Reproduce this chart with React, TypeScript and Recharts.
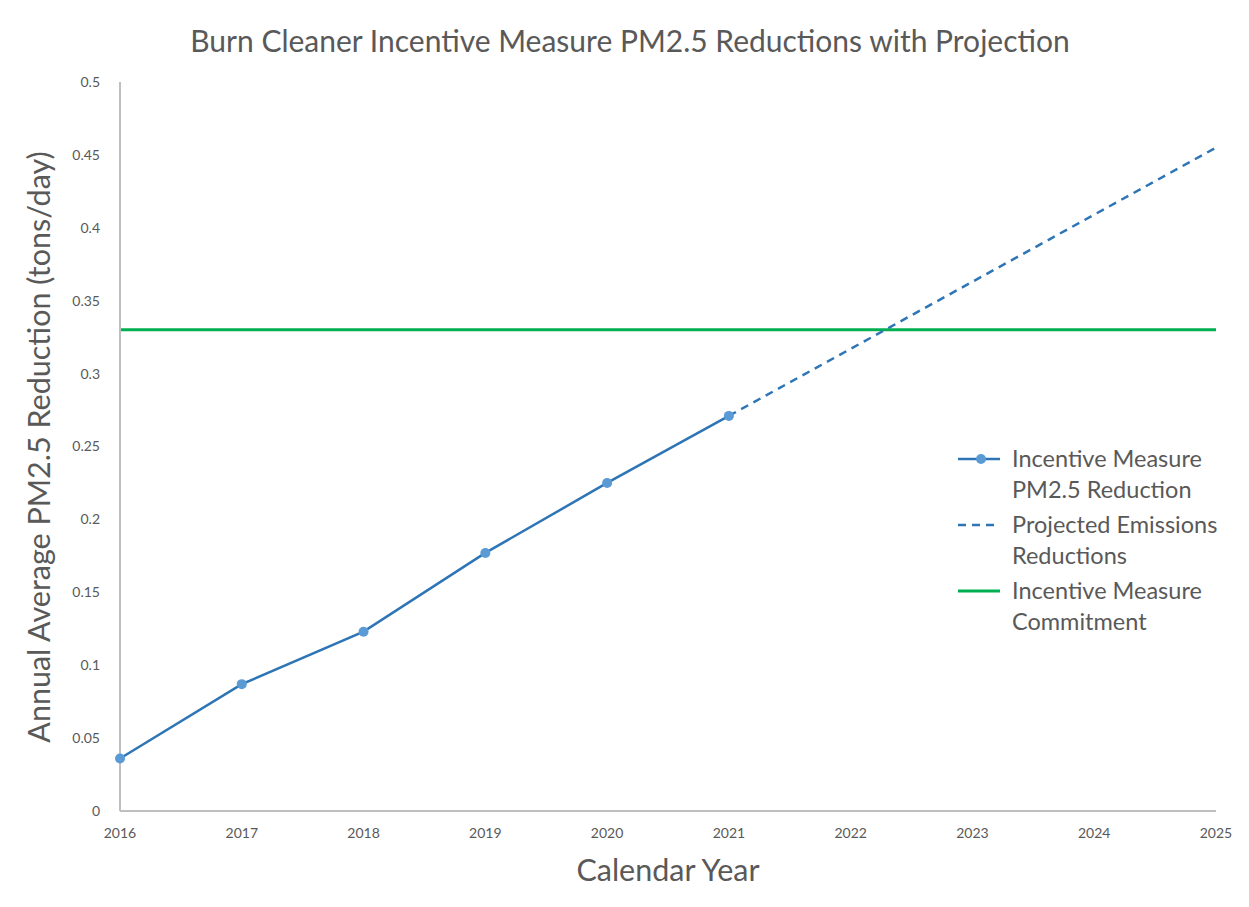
import { LineChart, Line, XAxis, YAxis } from 'recharts';

const years = [2016, 2017, 2018, 2019, 2020, 2021, 2022, 2023, 2024, 2025];
const measured = [0.036, 0.087, 0.123, 0.177, 0.225, 0.271, null, null, null, null];
const projected = [null, null, null, null, null, 0.271, 0.317, 0.363, 0.409, 0.455];
const commitment = [0.33, 0.33, 0.33, 0.33, 0.33, 0.33, 0.33, 0.33, 0.33, 0.33];
const yTicks = [0, 0.05, 0.1, 0.15, 0.2, 0.25, 0.3, 0.35, 0.4, 0.45, 0.5];

const data = years.map((year, i) => ({
  year,
  measured: measured[i],
  projected: projected[i],
  commitment: commitment[i],
}));

const FONT = 'Lato, "Open Sans", sans-serif';
const TEXT = '#595959';
const BLUE = '#2E75B6';
const DOT = '#5B9BD5';
const GREEN = '#00B050';
const AXIS = '#BFBFBF';

const legendItems = [
  { key: 'measured', lines: ['Incentive Measure', 'PM2.5 Reduction'], color: BLUE, dash: undefined, dot: true, width: 2.5 },
  { key: 'projected', lines: ['Projected Emissions', 'Reductions'], color: BLUE, dash: '8 6', dot: false, width: 2.5 },
  { key: 'commitment', lines: ['Incentive Measure', 'Commitment'], color: GREEN, dash: undefined, dot: false, width: 3 },
];

// legend drawn by hand, placed inside the plot like the Excel one
const ChartLegend = () => (
  <div
    style={{
      position: 'absolute',
      left: 958,
      top: 443,
      fontFamily: FONT,
      color: TEXT,
      fontSize: 23.5,
      lineHeight: '31px',
    }}
  >
    {legendItems.map((item) => (
      <div key={item.key} style={{ display: 'flex', marginBottom: 4 }}>
        <svg width={54} height={31} style={{ flexShrink: 0 }}>
          <line x1={0} y1={16} x2={42} y2={16} stroke={item.color} strokeWidth={item.width} strokeDasharray={item.dash} />
          {item.dot && <circle cx={23} cy={16} r={5} fill={DOT} />}
        </svg>
        <div>
          {item.lines.map((l) => (
            <div key={l} style={{ whiteSpace: 'nowrap' }}>{l}</div>
          ))}
        </div>
      </div>
    ))}
  </div>
);

export default function App() {
  return (
    <div style={{ position: 'relative', width: 1249, height: 907, margin: -8, background: '#fff', overflow: 'hidden' }}>
      <LineChart width={1249} height={907} data={data} margin={{ top: 82, right: 33, bottom: 66, left: 0 }}>
        <text x={630} y={52} textAnchor="middle" fontFamily={FONT} fontSize={30} fill={TEXT}>
          Burn Cleaner Incentive Measure PM2.5 Reductions with Projection
        </text>
        <text x={668} y={881} textAnchor="middle" fontFamily={FONT} fontSize={30.5} fill={TEXT}>
          Calendar Year
        </text>
        <text
          x={50}
          y={447}
          textAnchor="middle"
          fontFamily={FONT}
          fontSize={30.5}
          fill={TEXT}
          transform="rotate(-90 50 447)"
        >
          Annual Average PM2.5 Reduction (tons/day)
        </text>
        <XAxis
          dataKey="year"
          type="number"
          domain={[2016, 2025]}
          ticks={years}
          height={30}
          tickLine={false}
          axisLine={{ stroke: AXIS, strokeWidth: 2 }}
          tick={{ fill: TEXT, fontSize: 14, fontFamily: FONT }}
          tickMargin={11}
        />
        <YAxis
          type="number"
          domain={[0, 0.5]}
          ticks={yTicks}
          width={120}
          tickLine={false}
          axisLine={{ stroke: AXIS, strokeWidth: 2 }}
          tick={{ fill: TEXT, fontSize: 14, fontFamily: FONT }}
          tickMargin={14}
        />
        <Line
          dataKey="commitment"
          stroke={GREEN}
          strokeWidth={3}
          dot={false}
          isAnimationActive={false}
        />
        <Line
          dataKey="projected"
          stroke={BLUE}
          strokeWidth={2.5}
          strokeDasharray="8 6"
          dot={false}
          connectNulls={false}
          isAnimationActive={false}
        />
        <Line
          dataKey="measured"
          stroke={BLUE}
          strokeWidth={2.5}
          dot={{ r: 5, fill: DOT, stroke: DOT, strokeWidth: 0 }}
          connectNulls={false}
          isAnimationActive={false}
        />
      </LineChart>
      <ChartLegend />
      <div
        style={{
          position: 'absolute',
          left: 6,
          top: 5,
          width: 1260,
          height: 920,
          borderTop: '2px solid #D9D9D9',
          borderLeft: '2px solid #D9D9D9',
          pointerEvents: 'none',
        }}
      />
    </div>
  );
}
